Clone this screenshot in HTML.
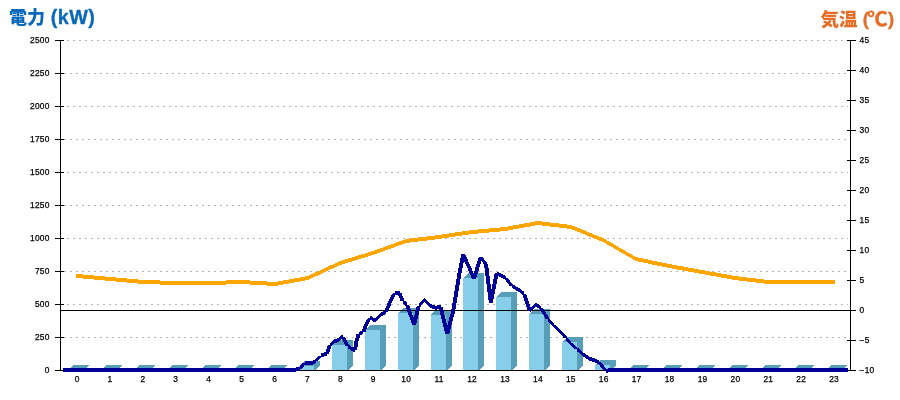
<!DOCTYPE html>
<html lang="ja">
<head>
<meta charset="utf-8">
<title>電力 (kW) / 気温 (℃)</title>
<style>
html,body{margin:0;padding:0;background:#fff;}
body{width:900px;height:400px;overflow:hidden;position:relative;}
svg{position:absolute;left:0;top:0;display:block;}
.tick{font-family:"Liberation Sans","DejaVu Sans",sans-serif;font-size:8.4px;letter-spacing:0.2px;fill:#000;stroke:#000;stroke-width:0.25px;}
.ttl{font-family:"Liberation Sans","Noto Sans CJK JP",sans-serif;font-weight:bold;}
</style>
</head>
<body>
<svg width="900" height="400" viewBox="0 0 900 400">
<rect x="0" y="0" width="900" height="400" fill="#ffffff"/>

<g shape-rendering="crispEdges" stroke="#b4b4b4" stroke-width="1" stroke-dasharray="2 4">
<line x1="64" y1="337.5" x2="848" y2="337.5"/>
<line x1="67" y1="304.5" x2="848" y2="304.5"/>
<line x1="64" y1="271.5" x2="848" y2="271.5"/>
<line x1="67" y1="238.5" x2="848" y2="238.5"/>
<line x1="64" y1="205.5" x2="848" y2="205.5"/>
<line x1="67" y1="172.5" x2="848" y2="172.5"/>
<line x1="64" y1="139.5" x2="848" y2="139.5"/>
<line x1="67" y1="106.5" x2="848" y2="106.5"/>
<line x1="64" y1="73.5" x2="848" y2="73.5"/>
<line x1="67" y1="40.5" x2="848" y2="40.5"/>
</g>
<g shape-rendering="crispEdges">
<polygon fill="#579eb9" points="68,370 73,365 89,365 89,365 84,370 83,370 83,370"/>
<polygon fill="#579eb9" points="101,370 106,365 122,365 122,365 117,370 116,370 116,370"/>
<polygon fill="#579eb9" points="134,370 139,365 155,365 155,365 150,370 149,370 149,370"/>
<polygon fill="#579eb9" points="167,370 172,365 188,365 188,365 183,370 182,370 182,370"/>
<polygon fill="#579eb9" points="200,370 205,365 221,365 221,365 216,370 215,370 215,370"/>
<polygon fill="#579eb9" points="233,370 238,365 254,365 254,365 249,370 248,370 248,370"/>
<polygon fill="#579eb9" points="266,370 271,365 287,365 287,365 282,370 281,370 281,370"/>
<polygon fill="#579eb9" points="299,366 304,361 320,361 320,365 315,370 314,370 314,366"/>
<rect fill="#87ceeb" x="299" y="366" width="15" height="4"/>
<polygon fill="#579eb9" points="332,345 337,340 353,340 353,365 348,370 347,370 347,345"/>
<rect fill="#87ceeb" x="332" y="345" width="15" height="25"/>
<polygon fill="#579eb9" points="365,330 370,325 386,325 386,365 381,370 380,370 380,330"/>
<rect fill="#87ceeb" x="365" y="330" width="15" height="40"/>
<polygon fill="#579eb9" points="398,313 403,308 419,308 419,365 414,370 413,370 413,313"/>
<rect fill="#87ceeb" x="398" y="313" width="15" height="57"/>
<polygon fill="#579eb9" points="431,314.5 436,309.5 452,309.5 452,365 447,370 446,370 446,314.5"/>
<rect fill="#87ceeb" x="431" y="314.5" width="15" height="55.5"/>
<polygon fill="#579eb9" points="463,278 468,273 484,273 484,365 479,370 478,370 478,278"/>
<rect fill="#87ceeb" x="463" y="278" width="15" height="92"/>
<polygon fill="#579eb9" points="496,297 501,292 517,292 517,365 512,370 511,370 511,297"/>
<rect fill="#87ceeb" x="496" y="297" width="15" height="73"/>
<polygon fill="#579eb9" points="529,314 534,309 550,309 550,365 545,370 544,370 544,314"/>
<rect fill="#87ceeb" x="529" y="314" width="15" height="56"/>
<polygon fill="#579eb9" points="562,342 567,337 583,337 583,365 578,370 577,370 577,342"/>
<rect fill="#87ceeb" x="562" y="342" width="15" height="28"/>
<polygon fill="#579eb9" points="595,365 600,360 616,360 616,365 611,370 610,370 610,365"/>
<rect fill="#87ceeb" x="595" y="365" width="15" height="5"/>
<polygon fill="#579eb9" points="628,370 633,365 649,365 649,365 644,370 643,370 643,370"/>
<polygon fill="#579eb9" points="661,370 666,365 682,365 682,365 677,370 676,370 676,370"/>
<polygon fill="#579eb9" points="694,370 699,365 715,365 715,365 710,370 709,370 709,370"/>
<polygon fill="#579eb9" points="727,370 732,365 748,365 748,365 743,370 742,370 742,370"/>
<polygon fill="#579eb9" points="760,370 765,365 781,365 781,365 776,370 775,370 775,370"/>
<polygon fill="#579eb9" points="793,370 798,365 814,365 814,365 809,370 808,370 808,370"/>
<polygon fill="#579eb9" points="826,370 831,365 847,365 847,365 842,370 841,370 841,370"/>
</g>
<line shape-rendering="crispEdges" x1="61" y1="310.5" x2="850" y2="310.5" stroke="#000" stroke-width="1"/>
<g shape-rendering="crispEdges" stroke="#000" stroke-width="1">
<line x1="60.5" y1="40" x2="60.5" y2="371"/>
<line x1="850.5" y1="40" x2="850.5" y2="371"/>
<line x1="60" y1="370.5" x2="851" y2="370.5"/>
<line x1="55" y1="370.5" x2="64" y2="370.5"/>
<line x1="55" y1="337.5" x2="64" y2="337.5"/>
<line x1="55" y1="304.5" x2="64" y2="304.5"/>
<line x1="55" y1="271.5" x2="64" y2="271.5"/>
<line x1="55" y1="238.5" x2="64" y2="238.5"/>
<line x1="55" y1="205.5" x2="64" y2="205.5"/>
<line x1="55" y1="172.5" x2="64" y2="172.5"/>
<line x1="55" y1="139.5" x2="64" y2="139.5"/>
<line x1="55" y1="106.5" x2="64" y2="106.5"/>
<line x1="55" y1="73.5" x2="64" y2="73.5"/>
<line x1="55" y1="40.5" x2="64" y2="40.5"/>
<line x1="847" y1="370.5" x2="856" y2="370.5"/>
<line x1="847" y1="340.5" x2="856" y2="340.5"/>
<line x1="847" y1="310.5" x2="856" y2="310.5"/>
<line x1="847" y1="280.5" x2="856" y2="280.5"/>
<line x1="847" y1="250.5" x2="856" y2="250.5"/>
<line x1="847" y1="220.5" x2="856" y2="220.5"/>
<line x1="847" y1="190.5" x2="856" y2="190.5"/>
<line x1="847" y1="160.5" x2="856" y2="160.5"/>
<line x1="847" y1="130.5" x2="856" y2="130.5"/>
<line x1="847" y1="100.5" x2="856" y2="100.5"/>
<line x1="847" y1="70.5" x2="856" y2="70.5"/>
<line x1="847" y1="40.5" x2="856" y2="40.5"/>
</g>
<g shape-rendering="crispEdges" fill="#ffa500">
<polygon points="76.0,274.0 77.0,274.0 77.0,278.0 76.0,278.0"/>
<polygon points="77.0,274.0 110.0,277.0 110.0,281.0 77.0,278.0"/>
<polygon points="110.0,277.0 143.0,280.0 143.0,284.0 110.0,281.0"/>
<polygon points="143.0,280.0 176.0,281.0 176.0,285.0 143.0,284.0"/>
<polygon points="176.0,281.0 209.0,281.0 209.0,285.0 176.0,285.0"/>
<polygon points="209.0,281.0 242.0,280.0 242.0,284.0 209.0,285.0"/>
<polygon points="242.0,280.0 275.0,282.0 275.0,286.0 242.0,284.0"/>
<polygon points="275.0,282.0 308.0,276.0 308.0,280.0 275.0,286.0"/>
<polygon points="308.0,276.0 340.0,261.0 340.0,265.0 308.0,280.0"/>
<polygon points="340.0,261.0 373.0,251.0 373.0,255.0 340.0,265.0"/>
<polygon points="373.0,251.0 406.0,239.0 406.0,243.0 373.0,255.0"/>
<polygon points="406.0,239.0 439.0,235.0 439.0,239.0 406.0,243.0"/>
<polygon points="439.0,235.0 472.0,230.0 472.0,234.0 439.0,239.0"/>
<polygon points="472.0,230.0 505.0,227.0 505.0,231.0 472.0,234.0"/>
<polygon points="505.0,227.0 538.0,221.0 538.0,225.0 505.0,231.0"/>
<polygon points="538.0,221.0 571.0,225.0 571.0,229.0 538.0,225.0"/>
<polygon points="571.0,225.0 603.0,238.0 603.0,242.0 571.0,229.0"/>
<polygon points="603.0,238.0 636.0,257.0 636.0,261.0 603.0,242.0"/>
<polygon points="636.0,257.0 669.0,264.0 669.0,268.0 636.0,261.0"/>
<polygon points="669.0,264.0 702.0,270.0 702.0,274.0 669.0,268.0"/>
<polygon points="702.0,270.0 735.0,276.0 735.0,280.0 702.0,274.0"/>
<polygon points="735.0,276.0 768.0,280.0 768.0,284.0 735.0,280.0"/>
<polygon points="768.0,280.0 801.0,280.0 801.0,284.0 768.0,284.0"/>
<polygon points="801.0,280.0 834.0,280.0 834.0,284.0 801.0,284.0"/>
<polygon points="834.0,280.0 835.0,280.0 835.0,284.0 834.0,284.0"/>
</g>
<g shape-rendering="crispEdges" fill="#000099">
<polygon points="63.0,368.0 295.0,368.0 295.0,372.0 63.0,372.0"/>
<polygon points="295.0,368.0 297.0,367.0 297.0,371.0 295.0,372.0"/>
<polygon points="297.0,367.0 299.5,367.0 299.5,371.0 297.0,371.0"/>
<polygon points="297.5,369.0 302.5,363.0 306.5,363.0 301.5,369.0"/>
<polygon points="304.5,361.0 312.5,361.0 312.5,365.0 304.5,365.0"/>
<polygon points="312.5,361.0 315.5,359.2 315.5,363.2 312.5,365.0"/>
<polygon points="313.5,361.2 319.0,355.5 323.0,355.5 317.5,361.2"/>
<polygon points="321.0,353.5 327.0,351.5 327.0,355.5 321.0,357.5"/>
<polygon points="325.0,353.5 328.0,345.0 332.0,345.0 329.0,353.5"/>
<polygon points="330.0,343.0 333.0,340.0 333.0,344.0 330.0,347.0"/>
<polygon points="333.0,340.0 338.0,338.0 338.0,342.0 333.0,344.0"/>
<polygon points="338.0,338.0 342.8,334.5 342.8,338.5 338.0,342.0"/>
<polygon points="340.8,336.5 345.8,346.3 349.8,346.3 344.8,336.5"/>
<polygon points="347.8,344.3 353.3,347.8 353.3,351.8 347.8,348.3"/>
<polygon points="353.3,347.8 355.0,347.8 355.0,351.8 353.3,351.8"/>
<polygon points="353.0,349.8 354.3,342.0 358.3,342.0 357.0,349.8"/>
<polygon points="354.3,342.0 356.6,334.0 360.6,334.0 358.3,342.0"/>
<polygon points="358.6,332.0 363.4,329.8 363.4,333.8 358.6,336.0"/>
<polygon points="361.4,331.8 365.0,322.5 369.0,322.5 365.4,331.8"/>
<polygon points="365.0,322.5 368.3,317.5 372.3,317.5 369.0,322.5"/>
<polygon points="370.3,315.5 375.0,318.5 375.0,322.5 370.3,319.5"/>
<polygon points="375.0,318.5 382.0,311.8 382.0,315.8 375.0,322.5"/>
<polygon points="382.0,311.8 386.0,310.3 386.0,314.3 382.0,315.8"/>
<polygon points="384.0,312.3 388.4,301.0 392.4,301.0 388.0,312.3"/>
<polygon points="388.4,301.0 392.8,293.2 396.8,293.2 392.4,301.0"/>
<polygon points="394.8,291.2 399.5,291.0 399.5,295.0 394.8,295.2"/>
<polygon points="397.5,293.0 400.5,301.0 404.5,301.0 401.5,293.0"/>
<polygon points="402.5,299.0 407.0,302.7 407.0,306.7 402.5,303.0"/>
<polygon points="405.0,304.7 412.0,324.5 416.0,324.5 409.0,304.7"/>
<polygon points="412.0,324.5 417.0,305.5 421.0,305.5 416.0,324.5"/>
<polygon points="419.0,303.5 424.8,298.0 424.8,302.0 419.0,307.5"/>
<polygon points="424.8,298.0 431.0,304.2 431.0,308.2 424.8,302.0"/>
<polygon points="431.0,304.2 435.5,305.7 435.5,309.7 431.0,308.2"/>
<polygon points="435.5,305.7 440.7,305.0 440.7,309.0 435.5,309.7"/>
<polygon points="438.7,307.0 445.2,333.8 449.2,333.8 442.7,307.0"/>
<polygon points="445.2,333.8 451.2,311.0 455.2,311.0 449.2,333.8"/>
<polygon points="451.2,311.0 456.0,281.5 460.0,281.5 455.2,311.0"/>
<polygon points="456.0,281.5 461.2,254.0 465.2,254.0 460.0,281.5"/>
<polygon points="461.2,254.0 472.0,278.7 476.0,278.7 465.2,254.0"/>
<polygon points="472.0,278.7 478.7,257.3 482.7,257.3 476.0,278.7"/>
<polygon points="478.7,257.3 484.0,264.5 488.0,264.5 482.7,257.3"/>
<polygon points="484.0,264.5 488.8,302.7 492.8,302.7 488.0,264.5"/>
<polygon points="488.8,302.7 494.7,273.2 498.7,273.2 492.8,302.7"/>
<polygon points="496.7,271.2 505.7,276.0 505.7,280.0 496.7,275.2"/>
<polygon points="503.7,278.0 509.8,286.0 513.8,286.0 507.7,278.0"/>
<polygon points="511.8,284.0 518.0,287.4 518.0,291.4 511.8,288.0"/>
<polygon points="518.0,287.4 524.0,291.8 524.0,295.8 518.0,291.4"/>
<polygon points="522.0,293.8 527.6,310.5 531.6,310.5 526.0,293.8"/>
<polygon points="529.6,308.5 536.0,302.9 536.0,306.9 529.6,312.5"/>
<polygon points="536.0,302.9 541.2,306.0 541.2,310.0 536.0,306.9"/>
<polygon points="539.2,308.0 545.6,318.7 549.6,318.7 543.2,308.0"/>
<polygon points="547.6,316.7 554.0,323.0 554.0,327.0 547.6,320.7"/>
<polygon points="552.0,325.0 558.3,331.4 562.3,331.4 556.0,325.0"/>
<polygon points="558.3,331.4 563.6,337.8 567.6,337.8 562.3,331.4"/>
<polygon points="565.6,335.8 571.0,341.0 571.0,345.0 565.6,339.8"/>
<polygon points="569.0,343.0 575.3,349.4 579.3,349.4 573.0,343.0"/>
<polygon points="577.3,347.4 583.7,352.8 583.7,356.8 577.3,351.4"/>
<polygon points="583.7,352.8 589.0,356.4 589.0,360.4 583.7,356.8"/>
<polygon points="589.0,356.4 598.5,360.0 598.5,364.0 589.0,360.4"/>
<polygon points="596.5,362.0 600.0,366.0 604.0,366.0 600.5,362.0"/>
<polygon points="600.0,366.0 604.0,371.0 608.0,371.0 604.0,366.0"/>
<polygon points="606.0,369.0 609.0,368.0 609.0,372.0 606.0,373.0"/>
<polygon points="609.0,368.0 848.0,368.0 848.0,372.0 609.0,372.0"/>
</g>
<g class="tick">
<text x="49.5" y="373.1" text-anchor="end">0</text>
<text x="49.5" y="340.1" text-anchor="end">250</text>
<text x="49.5" y="307.1" text-anchor="end">500</text>
<text x="49.5" y="274.1" text-anchor="end">750</text>
<text x="49.5" y="241.1" text-anchor="end">1000</text>
<text x="49.5" y="208.1" text-anchor="end">1250</text>
<text x="49.5" y="175.1" text-anchor="end">1500</text>
<text x="49.5" y="142.1" text-anchor="end">1750</text>
<text x="49.5" y="109.1" text-anchor="end">2000</text>
<text x="49.5" y="76.1" text-anchor="end">2250</text>
<text x="49.5" y="43.1" text-anchor="end">2500</text>
<text x="859.6" y="373">−10</text>
<text x="859.6" y="343">−5</text>
<text x="859.6" y="313">0</text>
<text x="859.6" y="283">5</text>
<text x="859.6" y="253">10</text>
<text x="859.6" y="223">15</text>
<text x="859.6" y="193">20</text>
<text x="859.6" y="163">25</text>
<text x="859.6" y="133">30</text>
<text x="859.6" y="103">35</text>
<text x="859.6" y="73">40</text>
<text x="859.6" y="43">45</text>
<text x="77.1" y="382" text-anchor="middle">0</text>
<text x="110.0" y="382" text-anchor="middle">1</text>
<text x="142.9" y="382" text-anchor="middle">2</text>
<text x="175.8" y="382" text-anchor="middle">3</text>
<text x="208.7" y="382" text-anchor="middle">4</text>
<text x="241.6" y="382" text-anchor="middle">5</text>
<text x="274.6" y="382" text-anchor="middle">6</text>
<text x="307.5" y="382" text-anchor="middle">7</text>
<text x="340.4" y="382" text-anchor="middle">8</text>
<text x="373.3" y="382" text-anchor="middle">9</text>
<text x="406.2" y="382" text-anchor="middle">10</text>
<text x="439.1" y="382" text-anchor="middle">11</text>
<text x="472.1" y="382" text-anchor="middle">12</text>
<text x="505.0" y="382" text-anchor="middle">13</text>
<text x="537.9" y="382" text-anchor="middle">14</text>
<text x="570.8" y="382" text-anchor="middle">15</text>
<text x="603.7" y="382" text-anchor="middle">16</text>
<text x="636.6" y="382" text-anchor="middle">17</text>
<text x="669.6" y="382" text-anchor="middle">18</text>
<text x="702.5" y="382" text-anchor="middle">19</text>
<text x="735.4" y="382" text-anchor="middle">20</text>
<text x="768.3" y="382" text-anchor="middle">21</text>
<text x="801.2" y="382" text-anchor="middle">22</text>
<text x="834.1" y="382" text-anchor="middle">23</text>
</g>
<g font-weight="bold" fill="#0869bb" stroke="#0869bb" stroke-width="0.35" stroke-linejoin="round">
<text font-family="'Liberation Sans','Noto Sans CJK JP',sans-serif" font-weight="900" stroke="none" x="8.9" y="24.3" font-size="18">電力</text>
<text font-family="'Liberation Sans','Noto Sans CJK JP',sans-serif" x="50.7" y="23.9" font-size="19.7" letter-spacing="0.5">(kW)</text>
</g>
<g font-weight="bold" fill="#e56d28" stroke="#e56d28" stroke-width="0.35" stroke-linejoin="round">
<text font-family="'Liberation Sans','Noto Sans CJK JP',sans-serif" font-weight="900" stroke="none" x="820.5" y="26.2" font-size="18.5">気温</text>
<text font-family="'Liberation Sans','Noto Sans CJK JP',sans-serif" x="862.7" y="25" font-size="18.5">(</text>
<text font-family="'Liberation Sans','Noto Sans CJK JP',sans-serif" transform="translate(867.2,25.7) scale(1.02,0.94)" x="0" y="0" font-size="20">℃</text>
<text font-family="'Liberation Sans','Noto Sans CJK JP',sans-serif" x="887.9" y="25" font-size="18.5">)</text>
</g>
</svg>
</body>
</html>
